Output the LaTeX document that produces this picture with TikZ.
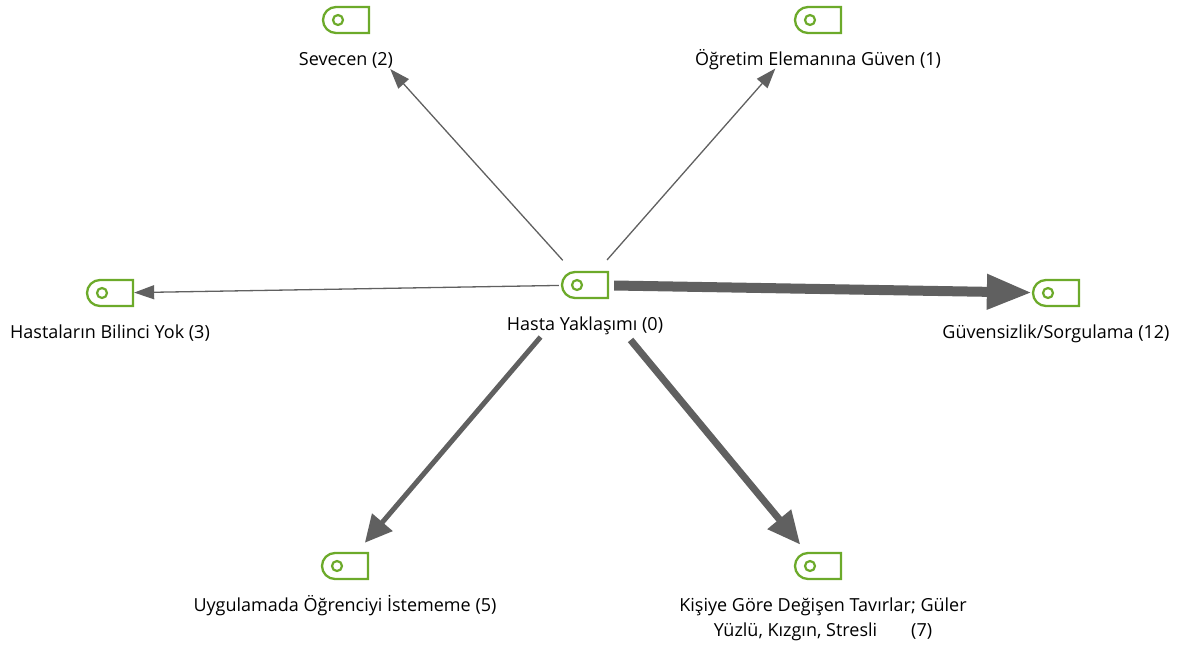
\documentclass[tikz,border=0pt]{standalone}
\usepackage{fontspec}
\setmainfont{Open Sans}
\usetikzlibrary{arrows.meta,shapes.misc}
\definecolor{taggreen}{RGB}{108,170,42}
\definecolor{linkgray}{RGB}{96,96,96}
\begin{document}
\begin{tikzpicture}[
			x=1pt, y=-1pt,
			code/.style={rounded rectangle, rounded rectangle right arc=none,
				draw=taggreen, line width=2.3pt, minimum width=46pt, minimum height=26pt, inner sep=0pt,
				path picture={\draw[taggreen, line width=2.2pt] ([xshift=-8pt]path picture bounding box.center) circle (5pt);}},
			codename/.style={font=\fontsize{18}{25}\selectfont, anchor=base, inner sep=0pt, align=center},
			link/.style={draw=linkgray, line width=1.3pt, -{Triangle[length=20pt,width=14pt]}},
			weight5/.style={draw=linkgray, line width=5pt, -{Triangle[length=27pt,width=26pt]}},
			weight7/.style={draw=linkgray, line width=7pt, -{Triangle[length=33pt,width=29pt]}},
			weight12/.style={draw=linkgray, line width=10pt, -{Triangle[length=45pt,width=33pt]}}
			]
			\useasboundingbox (0,0) rectangle (1178,646);
			\node[code] (hasta) at (585,285) {};
			\node[code] (sevecen) at (346,20) {};
			\node[code] (guven) at (818,20) {};
			\node[code] (bilinc) at (110,293) {};
			\node[code] (guvensiz) at (1056,293) {};
			\node[code] (istememe) at (345,566) {};
			\node[code] (tavir) at (818,566) {};
			\node[codename] (hastaname) at ([yshift=-45pt]hasta.center) {Hasta Yaklaşımı (0)};
			\node[codename] (sevecenname) at ([yshift=-45pt]sevecen.center) {Sevecen (2)};
			\node[codename] (guvenname) at ([yshift=-45pt]guven.center) {Öğretim Elemanına Güven (1)};
			\node[codename] (bilincname) at ([yshift=-45pt]bilinc.center) {Hastaların Bilinci Yok (3)};
			\node[codename] (guvensizname) at ([yshift=-45pt]guvensiz.center) {Güvensizlik/Sorgulama (12)};
			\node[codename] (istememename) at ([yshift=-45pt]istememe.center) {Uygulamada Öğrenciyi İstememe (5)};
			\node[codename] (tavirname) at ([xshift=5pt,yshift=-70pt]tavir.center) {Kişiye Göre Değişen Tavırlar; Güler\\Yüzlü, Kızgın, Stresli\hspace{34pt}(7)};
			\draw[link, shorten <=14.5pt, shorten >=47pt] (hasta) -- (sevecen);
			\draw[link, shorten <=14.5pt, shorten >=46pt] (hasta) -- (guven);
			\draw[link, shorten <=2pt] (hasta) -- (bilinc);
			\draw[weight12, shorten <=5pt] (hasta) -- (guvensiz);
			\draw[weight5, shorten <=50pt, shorten >=12pt] (hasta) -- (istememe);
			\draw[weight7, shorten <=53pt, shorten >=9.5pt] (hasta) -- (tavir);
		\end{tikzpicture}
\end{document}
